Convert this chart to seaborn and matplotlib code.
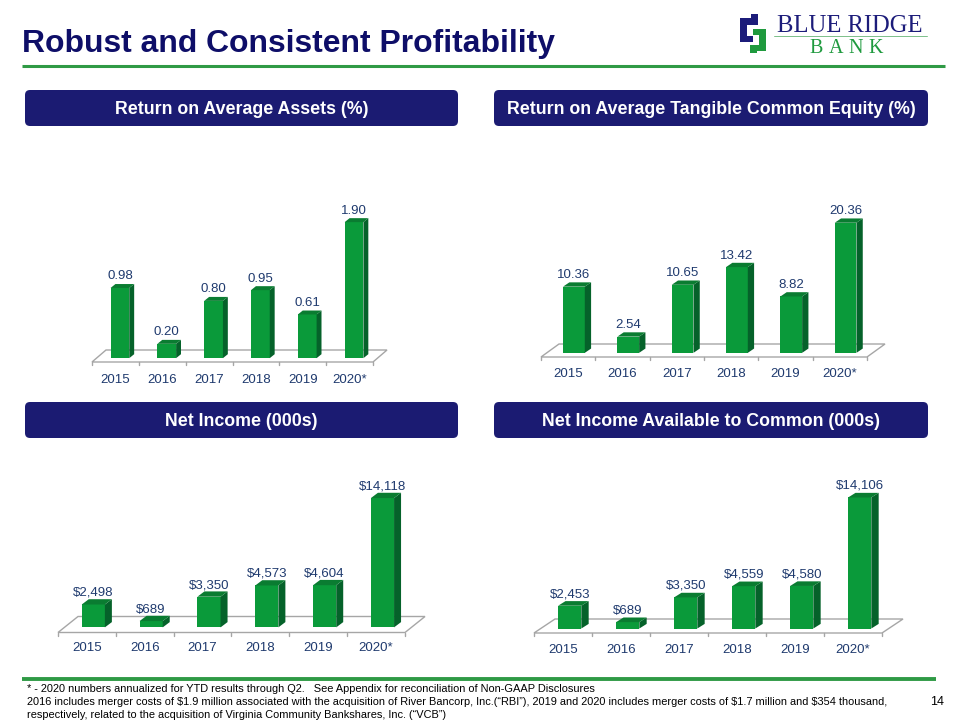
import matplotlib
matplotlib.use('Agg')
import matplotlib.pyplot as plt
from matplotlib.patches import Polygon, FancyBboxPatch
import numpy as np
import pandas as pd
import seaborn as sns

# data
years = ['2015', '2016', '2017', '2018', '2019', '2020*']
roaa = [0.98, 0.20, 0.80, 0.95, 0.61, 1.90]
rotce = [10.36, 2.54, 10.65, 13.42, 8.82, 20.36]
net_income = [2498, 689, 3350, 4573, 4604, 14118]
net_income_common = [2453, 689, 3350, 4559, 4580, 14106]

headers = ['Return on Average Assets (%)',
           'Return on Average Tangible Common Equity (%)',
           'Net Income (000s)',
           'Net Income Available to Common (000s)']

footnotes = ['* - 2020 numbers annualized for YTD results through Q2.   See Appendix for reconciliation of Non-GAAP Disclosures',
             '2016 includes merger costs of $1.9 million associated with the acquisition of River Bancorp, Inc.(\u201cRBI\u201d), 2019 and 2020 includes merger costs of $1.7 million and $354 thousand,',
             'respectively, related to the acquisition of Virginia Community Bankshares, Inc. (\u201cVCB\u201d)']

W, H = 960, 720
FRONT = '#0A9A3A'
SIDE = '#05622A'
TOPC = '#0A7C31'
NAVY = '#1B1B72'
TEXT = '#1F3A6E'
GREEN = '#2F9A45'

sns.set_theme(style='white')
plt.rcParams['font.family'] = ['Liberation Sans', 'DejaVu Sans']

fig = plt.figure(figsize=(9.6, 7.2), dpi=100)
renderer = fig.canvas.get_renderer()

# overlay in pixel coordinates for page furniture
page = fig.add_axes([0, 0, 1, 1])
page.set_xlim(0, W)
page.set_ylim(H, 0)
page.axis('off')


def fit_text(t, width):
    w = t.get_window_extent(renderer).width
    t.set_fontsize(t.get_fontsize() * width / w)


title = page.text(22, 52, 'Robust and Consistent Profitability', fontsize=22,
                  fontweight='bold', color='#0E0E68', va='baseline')
fit_text(title, 533)
page.plot([22, 945], [66, 66], color=GREEN, lw=2.2, solid_capstyle='butt')
page.plot([22, 936], [679, 679], color=GREEN, lw=2.8, solid_capstyle='butt')

# logo
page.add_patch(Polygon([(740, 18), (751, 18), (751, 14), (758, 14), (758, 25), (747, 25),
                        (747, 36), (753, 36), (753, 42), (740, 42)], color='#1C1C7A', lw=0))
page.add_patch(Polygon([(766, 29), (753, 29), (753, 35), (759, 35), (759, 45), (750, 45),
                        (750, 53), (757, 53), (757, 51), (766, 51)], color='#1F9A3E', lw=0))
logo1 = page.text(777, 32, 'BLUE RIDGE', fontsize=17, color='#1C1C7A',
                  family='Liberation Serif', va='baseline')
fit_text(logo1, 146)
for cx, ch in zip([816.5, 835.8, 855.8, 875.5], 'BANK'):
    page.text(cx, 53, ch, fontsize=14.5, color='#1F9A3E', family='Liberation Serif',
              va='baseline', ha='center')
page.plot([774, 927], [36, 36], color='#7CC08A', lw=0.7)

# header boxes
boxes = [(25, 90, 433, 36), (494, 90, 434, 36), (25, 402, 433, 36), (494, 402, 434, 36)]
for (bx, by, bw, bh), txt in zip(boxes, headers):
    page.add_patch(FancyBboxPatch((bx + 4, by + 4), bw - 8, bh - 8,
                                  boxstyle='round,pad=4,rounding_size=5',
                                  facecolor=NAVY, edgecolor='none'))
    page.text(bx + bw / 2, by + bh / 2 + 1, txt, color='white', fontsize=12.8,
              fontweight='bold', ha='center', va='center')

# footnotes
fn = []
for i, line in enumerate(footnotes):
    fn.append(page.text(27, 689 + 13 * i, line, fontsize=7.5, color='black',
                        va='center', parse_math=False,
                        family=['Liberation Sans Narrow', 'Liberation Sans']))
w2 = fn[1].get_window_extent(renderer).width
for t in fn:
    t.set_fontsize(7.5 * 853 / w2)
page.text(944, 702, '14', fontsize=9, ha='right', va='center', color='black')

# panels: floor front-left x, front-right x, floor front y, floor depth dx, dy,
# px per unit, top of axes, year label y
panels = [
    (92, 373, 362, 14, 12, 71.6, 150, 379),
    (541, 867, 357, 18, 13, 6.39, 150, 373),
    (58, 405, 632.5, 20, 16, 0.00916, 460, 647),
    (534, 882, 633, 21, 14, 0.00929, 460, 649),
]
series = [roaa, rotce, net_income, net_income_common]
labels = [[f'{v:.2f}' for v in roaa],
          [f'{v:.2f}' for v in rotce],
          [f'${v:,}' for v in net_income],
          [f'${v:,}' for v in net_income_common]]

for (x0, x1, yf, fdx, fdy, K, top, ylab), vals, labs in zip(panels, series, labels):
    S = (x1 - x0) / 6
    sh = 0.32 * fdx
    base = yf - 0.32 * fdy
    left, right, bottom = x0 - 8, x1 + fdx + 8, yf + 6
    ax = fig.add_axes([left / W, 1 - bottom / H, (right - left) / W, (bottom - top) / H])
    ax.set_facecolor('none')
    df = pd.DataFrame({'year': years, 'value': vals})
    sns.barplot(data=df, x='year', y='value', color=FRONT, saturation=1, width=0.4,
                ax=ax, zorder=3, linewidth=0)
    ax.set_xlim((left - x0 - sh) / S - 0.5, (right - x0 - sh) / S - 0.5)
    ax.set_ylim((base - bottom) / K, (base - top) / K)

    # side and top faces of the 3D bars
    bdx, bdy = 0.35 * fdx / S, 0.33 * fdy / K
    for bar in list(ax.patches):
        bx, bw, bh = bar.get_x(), bar.get_width(), bar.get_height()
        ax.add_patch(Polygon([(bx + bw, 0), (bx + bw + bdx, bdy), (bx + bw + bdx, bh + bdy),
                              (bx + bw, bh)], color=SIDE, lw=0, zorder=3))
        ax.add_patch(Polygon([(bx, bh), (bx + bw, bh), (bx + bw + bdx, bh + bdy),
                              (bx + bdx, bh + bdy)], color=TOPC, lw=0, zorder=3))

    # floor
    fy = (base - yf) / K
    xl, xr = -0.5 - sh / S, 5.5 - sh / S
    ddx, ddy = fdx / S, fdy / K
    ax.add_patch(Polygon([(xl, fy), (xr, fy), (xr + ddx, fy + ddy), (xl + ddx, fy + ddy)],
                         facecolor='white', edgecolor='#A6A6A6', lw=1, zorder=1))
    for k in range(7):
        ax.plot([xl + k, xl + k], [fy, fy - 3 / K], color='#A6A6A6', lw=1, zorder=1)

    ax.bar_label(ax.containers[0], labels=labs, padding=4, fontsize=9.5, color=TEXT)

    ax.set_xticks(np.arange(6) - sh / S)
    ax.set_xticklabels(years)
    pad_px = ylab - 4.7 - bottom
    ax.tick_params(axis='x', length=0, pad=pad_px * 0.72, labelsize=9.5, labelcolor=TEXT)
    ax.set_yticks([])
    ax.set_xlabel('')
    ax.set_ylabel('')
    for s in ax.spines.values():
        s.set_visible(False)

fig.savefig('out.png', dpi=100)
